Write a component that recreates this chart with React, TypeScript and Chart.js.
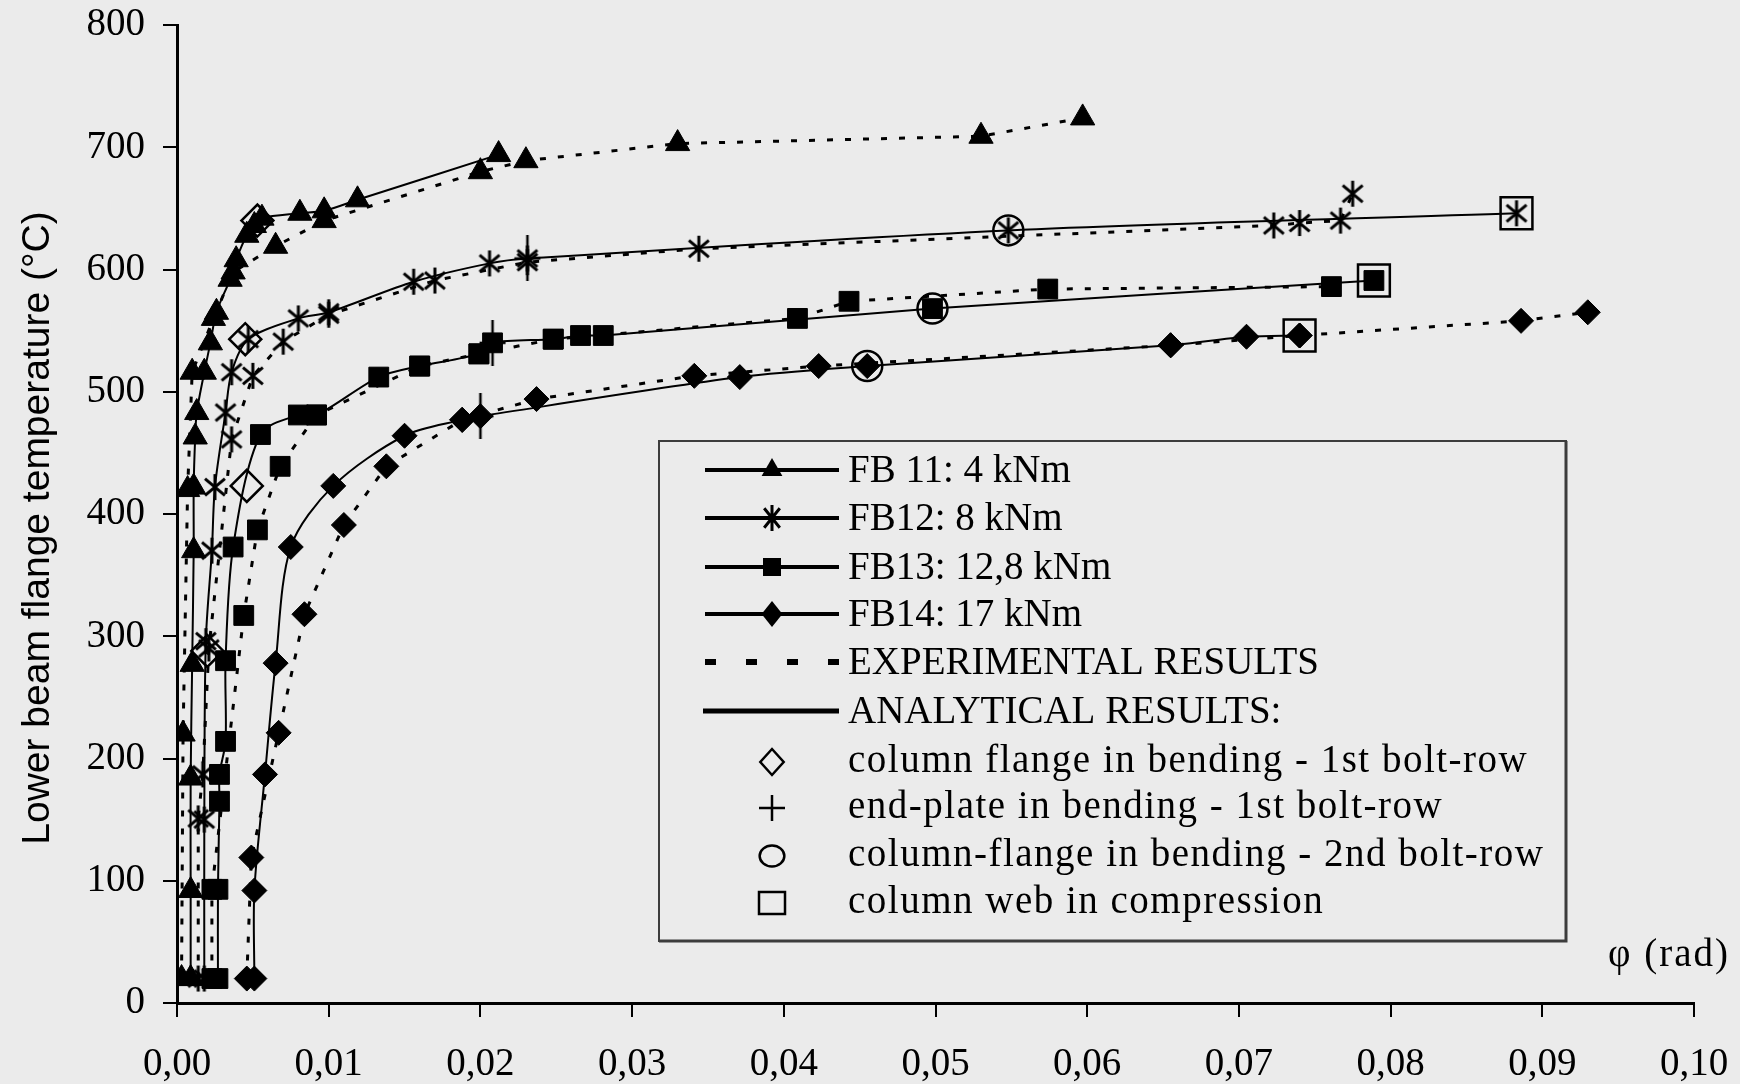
import React, { useEffect, useRef } from 'react';
import { Chart, registerables } from 'chart.js';

Chart.register(...registerables);

// ---------- axis texts ----------
const xTickLabels = ['0,00', '0,01', '0,02', '0,03', '0,04', '0,05', '0,06', '0,07', '0,08', '0,09', '0,10'];
const yTitle = 'Lower beam flange temperature (°C)';
const xTitle = 'φ (rad)';

// ---------- legend texts ----------
const seriesLabels = ['FB 11: 4 kNm', 'FB12: 8 kNm', 'FB13: 12,8 kNm', 'FB14: 17 kNm'];
const lineLabels = ['EXPERIMENTAL RESULTS', 'ANALYTICAL RESULTS:'];
const failureLabels = [
  'column flange in bending - 1st bolt-row',
  'end-plate in bending - 1st bolt-row',
  'column-flange in bending - 2nd bolt-row',
  'column web in compression',
];

// ---------- FB11 (triangles) ----------
const fb11AnaPhi = [0.0009, 0.0009, 0.0009, 0.001, 0.0011, 0.0011, 0.0012, 0.0013, 0.0018, 0.0022, 0.0026, 0.0035, 0.0039, 0.0046, 0.0051, 0.0056, 0.0081, 0.0097, 0.0119, 0.0212];
const fb11AnaT = [20, 92, 184, 277, 370, 422, 463, 483, 516, 540, 565, 592, 608, 628, 636, 642, 646, 648, 657, 694];
const fb11ExpPhi = [0.0003, 0.0004, 0.0007, 0.001, 0.0024, 0.0037, 0.0065, 0.0097, 0.02, 0.023, 0.033, 0.053, 0.0597];
const fb11ExpT = [20, 220, 420, 516, 560, 598, 619, 640, 680, 689, 703, 709, 724];

// ---------- FB12 (asterisks) ----------
const fb12AnaPhi = [0.0018, 0.0018, 0.0019, 0.0023, 0.0025, 0.0032, 0.0036, 0.0047, 0.008, 0.01, 0.0156, 0.0206, 0.0231, 0.0548, 0.0883];
const fb12AnaT = [20, 150, 296, 370, 422, 483, 516, 543, 560, 565, 590, 605, 609, 632, 646];
const fb12ExpPhi = [0.0014, 0.0014, 0.0017, 0.0021, 0.0036, 0.005, 0.007, 0.01, 0.017, 0.0231, 0.0344, 0.0723, 0.074, 0.0767, 0.0775];
const fb12ExpT = [20, 151, 187, 290, 461, 513, 541, 563, 591, 606, 617, 636, 638, 640, 662];

// ---------- FB13 (squares) ----------
const fb13AnaPhi = [0.0027, 0.0027, 0.0028, 0.0028, 0.0032, 0.0032, 0.0037, 0.0055, 0.008, 0.0092, 0.0133, 0.016, 0.0199, 0.0208, 0.0248, 0.0266, 0.0281, 0.0498, 0.0789];
const fb13AnaT = [20, 93, 165, 187, 214, 280, 373, 465, 481, 481, 512, 521, 531, 540, 543, 546, 546, 568, 591];
const fb13ExpPhi = [0.0023, 0.0023, 0.0044, 0.0053, 0.0068, 0.0092, 0.016, 0.0199, 0.0248, 0.0409, 0.0443, 0.0574, 0.0761];
const fb13ExpT = [20, 93, 317, 387, 439, 481, 521, 531, 543, 560, 574, 584, 586];

// ---------- FB14 (diamonds) ----------
const fb14AnaPhi = [0.0051, 0.0051, 0.0058, 0.0065, 0.0075, 0.0103, 0.015, 0.0188, 0.02, 0.0371, 0.0455, 0.0655, 0.0705, 0.074];
const fb14AnaT = [20, 92, 187, 278, 373, 423, 464, 477, 480, 512, 521, 538, 545, 546];
const fb14ExpPhi = [0.0046, 0.0049, 0.0067, 0.0084, 0.011, 0.0138, 0.0188, 0.0237, 0.0341, 0.0423, 0.0655, 0.074, 0.0886, 0.093];
const fb14ExpT = [20, 119, 221, 318, 391, 439, 477, 494, 513, 521, 538, 546, 558, 565];

// ---------- failure-mode markers ----------
const flangeRow1Phi = [0.0053, 0.0045, 0.002, 0.0046];
const flangeRow1T = [640, 543, 288, 423];
const endPlatePhi = [0.0231, 0.0208, 0.02];
const endPlateT = [609, 540, 480];
const flangeRow2Phi = [0.0548, 0.0498, 0.0455];
const flangeRow2T = [632, 568, 521];
const webPhi = [0.0883, 0.0789, 0.074];
const webT = [646, 591, 546];

const pts = (phi: number[], t: number[]) => phi.map((x, i) => ({ x, y: t[i] }));

const BG = '#ebebeb';
const SERIF = '"Liberation Serif", "Times New Roman", serif';
const SANS = '"Liberation Sans", Arial, sans-serif';

function makeAsterisk(size: number, lw: number): HTMLCanvasElement {
  const c = document.createElement('canvas');
  c.width = size;
  c.height = size;
  const g = c.getContext('2d')!;
  const m = size / 2;
  const a = size / 2 - 1;
  g.strokeStyle = '#000';
  g.lineWidth = lw;
  g.lineCap = 'butt';
  g.beginPath();
  g.moveTo(m, m - a);
  g.lineTo(m, m + a);
  const th = (50 * Math.PI) / 180;
  const dx = Math.sin(th) * a;
  const dy = Math.cos(th) * a;
  g.moveTo(m - dx, m - dy);
  g.lineTo(m + dx, m + dy);
  g.moveTo(m + dx, m - dy);
  g.lineTo(m - dx, m + dy);
  g.stroke();
  return c;
}

function makeTallPlus(w: number, h: number, lw: number): HTMLCanvasElement {
  const c = document.createElement('canvas');
  c.width = w;
  c.height = h;
  const g = c.getContext('2d')!;
  g.strokeStyle = '#000';
  g.lineWidth = lw;
  g.beginPath();
  g.moveTo(w / 2, 0);
  g.lineTo(w / 2, h);
  g.moveTo(1, h / 2);
  g.lineTo(w - 1, h / 2);
  g.stroke();
  return c;
}

function drawMarker(ctx: CanvasRenderingContext2D, kind: string, x: number, y: number, r: number) {
  ctx.save();
  ctx.fillStyle = '#000';
  ctx.strokeStyle = '#000';
  ctx.beginPath();
  switch (kind) {
    case 'triangle':
      ctx.moveTo(x, y - r);
      ctx.lineTo(x + r * 0.866, y + r / 2);
      ctx.lineTo(x - r * 0.866, y + r / 2);
      ctx.closePath();
      ctx.fill();
      break;
    case 'square':
      ctx.rect(x - r, y - r, 2 * r, 2 * r);
      ctx.fill();
      break;
    case 'diamond':
      ctx.moveTo(x, y - r);
      ctx.lineTo(x + r * 0.8, y);
      ctx.lineTo(x, y + r);
      ctx.lineTo(x - r * 0.8, y);
      ctx.closePath();
      ctx.fill();
      break;
    case 'asterisk': {
      ctx.lineWidth = 3;
      ctx.moveTo(x, y - r);
      ctx.lineTo(x, y + r);
      const dx = r * 0.6;
      const dy = r * 0.75;
      ctx.moveTo(x - dx, y - dy);
      ctx.lineTo(x + dx, y + dy);
      ctx.moveTo(x + dx, y - dy);
      ctx.lineTo(x - dx, y + dy);
      ctx.stroke();
      break;
    }
    case 'openDiamond':
      ctx.lineWidth = 2.5;
      ctx.moveTo(x, y - r);
      ctx.lineTo(x + r * 0.9, y);
      ctx.lineTo(x, y + r);
      ctx.lineTo(x - r * 0.9, y);
      ctx.closePath();
      ctx.stroke();
      break;
    case 'plus':
      ctx.lineWidth = 2.5;
      ctx.moveTo(x, y - r);
      ctx.lineTo(x, y + r);
      ctx.moveTo(x - r, y);
      ctx.lineTo(x + r, y);
      ctx.stroke();
      break;
    case 'circle':
      ctx.lineWidth = 2.5;
      ctx.ellipse(x, y, r * 0.95, r * 0.8, 0, 0, Math.PI * 2);
      ctx.stroke();
      break;
    case 'openSquare':
      ctx.lineWidth = 2.5;
      ctx.rect(x - r, y - r * 0.85, 2 * r, 1.7 * r);
      ctx.stroke();
      break;
  }
  ctx.restore();
}

const backgroundPlugin = {
  id: 'bgFill',
  beforeDraw(chart: any) {
    const { ctx, width, height } = chart;
    ctx.save();
    ctx.fillStyle = BG;
    ctx.fillRect(0, 0, width, height);
    ctx.restore();
  },
};

const decorPlugin = {
  id: 'decor',
  afterDraw(chart: any) {
    const ctx: CanvasRenderingContext2D = chart.ctx;
    ctx.save();

    // y-axis title
    ctx.save();
    ctx.translate(49, 528);
    ctx.rotate(-Math.PI / 2);
    ctx.font = `39px ${SANS}`;
    ctx.fillStyle = '#000';
    ctx.textAlign = 'center';
    ctx.textBaseline = 'alphabetic';
    ctx.fillText(yTitle, 0, 0);
    ctx.restore();

    // x-axis title (phi)
    ctx.save();
    ctx.font = `39px ${SERIF}`;
    (ctx as any).letterSpacing = '2px';
    ctx.fillStyle = '#000';
    ctx.textAlign = 'left';
    ctx.textBaseline = 'alphabetic';
    ctx.fillText(xTitle, 1608, 966);
    ctx.restore();

    // legend box
    const bx = 659, by = 441, bw = 907, bh = 500;
    ctx.strokeStyle = '#3c3c3c';
    ctx.lineWidth = 2;
    ctx.strokeRect(bx, by, bw, bh);
    ctx.lineWidth = 3;
    ctx.beginPath();
    ctx.moveTo(bx, by + bh);
    ctx.lineTo(bx + bw, by + bh);
    ctx.lineTo(bx + bw, by);
    ctx.stroke();

    const rows = [470, 518, 567, 614, 662, 711, 762, 808, 856, 903];
    const lx0 = 705, lx1 = 839, mx = 772, tx = 848;
    const kinds = ['triangle', 'asterisk', 'square', 'diamond'];
    const sizes = [12, 13, 9, 13];
    ctx.fillStyle = '#000';
    ctx.strokeStyle = '#000';
    ctx.textAlign = 'left';
    ctx.textBaseline = 'middle';
    ctx.font = `39px ${SERIF}`;
    for (let i = 0; i < 4; i++) {
      const y = rows[i];
      ctx.lineWidth = 4;
      ctx.setLineDash([]);
      ctx.beginPath();
      ctx.moveTo(lx0, y);
      ctx.lineTo(lx1, y);
      ctx.stroke();
      drawMarker(ctx, kinds[i], mx, y, sizes[i]);
      ctx.fillText(seriesLabels[i], tx, y + 2);
    }
    // experimental
    ctx.lineWidth = 6;
    ctx.setLineDash([11, 30]);
    ctx.beginPath();
    ctx.moveTo(lx0, rows[4]);
    ctx.lineTo(lx1, rows[4]);
    ctx.stroke();
    ctx.fillText(lineLabels[0], tx, rows[4] + 2);
    // analytical
    ctx.setLineDash([]);
    ctx.lineWidth = 5;
    ctx.beginPath();
    ctx.moveTo(lx0 - 2, rows[5]);
    ctx.lineTo(lx1, rows[5]);
    ctx.stroke();
    ctx.fillText(lineLabels[1], tx, rows[5] + 2);
    // failure modes
    const fKinds = ['openDiamond', 'plus', 'circle', 'openSquare'];
    (ctx as any).letterSpacing = '1.5px';
    for (let i = 0; i < 4; i++) {
      const y = rows[6 + i];
      drawMarker(ctx, fKinds[i], mx, y, 13);
      ctx.fillStyle = '#000';
      ctx.fillText(failureLabels[i], tx, y);
    }
    (ctx as any).letterSpacing = '0px';
    ctx.restore();
  },
};

export default function App() {
  const ref = useRef<HTMLCanvasElement | null>(null);

  useEffect(() => {
    const canvas = ref.current;
    if (!canvas) return;
    const asterisk = makeAsterisk(28, 3);
    const tallPlus = makeTallPlus(28, 46, 2.5);

    const ana = (label: string, data: any[], style: any, radius: number) => ({
      label: label + ' analytical',
      data,
      showLine: true,
      borderColor: '#000',
      borderWidth: 2,
      tension: 0.3,
      pointStyle: style,
      pointRadius: radius,
      pointBackgroundColor: '#000',
      pointBorderColor: '#000',
      pointBorderWidth: 1,
    });
    const exp = (label: string, data: any[], style: any, radius: number) => ({
      label: label + ' experimental',
      data,
      showLine: true,
      borderColor: '#000',
      borderWidth: 3,
      borderDash: [6, 12],
      tension: 0,
      pointStyle: style,
      pointRadius: radius,
      pointBackgroundColor: '#000',
      pointBorderColor: '#000',
      pointBorderWidth: 1,
    });
    const open = (label: string, data: any[], style: any, radius: number) => ({
      label,
      data,
      showLine: false,
      pointStyle: style,
      pointRadius: radius,
      pointBackgroundColor: 'rgba(0,0,0,0)',
      pointBorderColor: '#000',
      pointBorderWidth: 2.5,
    });

    const datasets: any[] = [
      open(failureLabels[0], pts(flangeRow1Phi, flangeRow1T), 'rectRot', 16),
      open(failureLabels[1], pts(endPlatePhi, endPlateT), tallPlus, 14),
      open(failureLabels[2], pts(flangeRow2Phi, flangeRow2T), 'circle', 15),
      open(failureLabels[3], pts(webPhi, webT), 'rect', 22.5),
      ana(seriesLabels[0], pts(fb11AnaPhi, fb11AnaT), 'triangle', 14),
      exp(seriesLabels[0], pts(fb11ExpPhi, fb11ExpT), 'triangle', 14),
      ana(seriesLabels[1], pts(fb12AnaPhi, fb12AnaT), asterisk, 12),
      exp(seriesLabels[1], pts(fb12ExpPhi, fb12ExpT), asterisk, 12),
      ana(seriesLabels[2], pts(fb13AnaPhi, fb13AnaT), 'rect', 14),
      exp(seriesLabels[2], pts(fb13ExpPhi, fb13ExpT), 'rect', 14),
      ana(seriesLabels[3], pts(fb14AnaPhi, fb14AnaT), 'rectRot', 12.5),
      exp(seriesLabels[3], pts(fb14ExpPhi, fb14ExpT), 'rectRot', 12.5),
    ];

    const tickFont = { family: SERIF, size: 39 };
    const chart = new Chart(canvas, {
      type: 'scatter',
      data: { datasets },
      options: {
        animation: false,
        responsive: false,
        devicePixelRatio: 1,
        layout: { padding: { left: 0, right: 46, top: 25, bottom: 0 } },
        plugins: { legend: { display: false }, tooltip: { enabled: false } },
        scales: {
          x: {
            type: 'linear',
            min: 0,
            max: 0.1,
            ticks: {
              stepSize: 0.01,
              autoSkip: false,
              maxRotation: 0,
              color: '#000',
              font: tickFont,
              padding: 24,
              callback: (v: any, i: number) => xTickLabels[i] ?? String(v),
            },
            grid: {
              drawOnChartArea: false,
              drawTicks: true,
              tickLength: 14,
              color: '#000',
              lineWidth: 2,
              tickColor: '#000',
              tickWidth: 2,
            },
            border: { display: true, color: '#000', width: 3 },
            afterFit: (s: any) => {
              s.height = 81;
              s.paddingLeft = 0;
              s.paddingRight = 0;
            },
          },
          y: {
            type: 'linear',
            min: 0,
            max: 800,
            ticks: {
              stepSize: 100,
              color: '#000',
              font: tickFont,
              padding: 18,
            },
            grid: {
              drawOnChartArea: false,
              drawTicks: true,
              tickLength: 14,
              color: '#000',
              lineWidth: 2,
              tickColor: '#000',
              tickWidth: 2,
            },
            border: { display: true, color: '#000', width: 3 },
            afterFit: (s: any) => {
              s.width = 177;
              s.paddingTop = 0;
              s.paddingBottom = 0;
            },
          },
        },
      } as any,
      plugins: [backgroundPlugin, decorPlugin],
    });
    return () => chart.destroy();
  }, []);

  return (
    <div style={{ position: 'absolute', left: 0, top: 0, width: 1740, height: 1084, background: BG }}>
      <canvas ref={ref} width={1740} height={1084} style={{ display: 'block' }} />
    </div>
  );
}
